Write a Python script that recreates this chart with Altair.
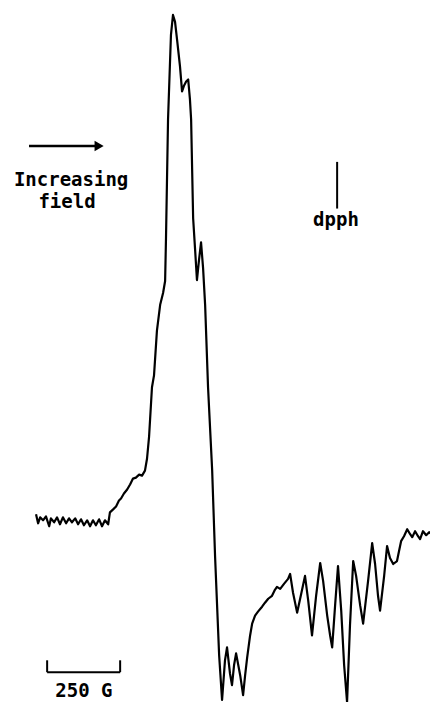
import altair as alt
import pandas as pd

# EPR spectrum trace: magnetic field (G, relative) and derivative signal (arb. units)
field = [0, 7, 14, 24, 34, 45, 51, 62, 72, 82, 92, 103, 113, 123, 134, 144, 154, 164, 175, 185,
         195, 205, 216, 226, 236, 247, 253, 264, 274, 284, 291, 301, 312, 322, 332, 342, 353, 363,
         373, 380, 387, 397, 404, 414, 425, 435, 442, 445, 452, 462, 469, 476, 483, 493, 500, 507,
         514, 521, 527, 531, 538, 545, 551, 558, 565, 572, 579, 589, 603, 613, 627, 637, 647, 654,
         664, 671, 678, 685, 699, 709, 716, 723, 733, 740, 750, 760, 774, 784, 795, 808, 818, 825,
         836, 849, 863, 870, 880, 894, 908, 921, 932, 945, 959, 973, 983, 997, 1007, 1014, 1024,
         1034, 1045, 1055, 1065, 1075, 1086, 1096, 1110, 1120, 1137, 1151, 1161, 1171, 1178, 1192,
         1202, 1212, 1223, 1236, 1243, 1250, 1260, 1271, 1281, 1288, 1298, 1308, 1315, 1325, 1336,
         1346, 1356, 1366, 1377]
signal = [12, 3, 9, 6, 10, 0, 8, 4, 9, 2, 9, 3, 8, 4, 8, 2, 7, 1, 6, 0,
          6, 1, 7, 0, 6, 2, 14, 17, 20, 26, 28, 33, 37, 42, 48, 49, 52, 51,
          56, 68, 90, 140, 152, 197, 223, 235, 247, 290, 410, 495, 515, 508, 490, 463, 438, 444,
          448, 450, 430, 410, 310, 277, 248, 268, 286, 260, 223, 140, 57, -30, -130, -175, -135, -122,
          -148, -160, -140, -128, -150, -170, -150, -132, -110, -98, -90, -86, -81, -77, -73, -70, -64, -61,
          -63, -58, -53, -48, -67, -87, -68, -50, -75, -110, -70, -37, -55, -90, -110, -122, -80,
          -40, -85, -140, -177, -100, -35, -50, -80, -98, -55, -17, -38, -70, -85, -50,
          -20, -32, -38, -35, -25, -15, -10, -3, -8, -11, -5, -10, -13, -5, -9,
          -6, -8, -11, -10]

labels = ["Increasing", "field", "dpph", "250 G"]
label_field = [120, 106, 1027, 164]
label_signal = [343, 321, 302, -172]

arrow_field = [-24, 209]
arrow_signal = [383, 383]
arrow_head_field = [216]

dpph_field = [1031]
dpph_signal = [367, 320]

bar_field = [38, 288]
bar_signal = [-147, -135]

X_DOMAIN = [-96, 1349]
Y_DOMAIN = [-177, 522]

df = pd.DataFrame({"field": field, "signal": signal})
xs = alt.Scale(domain=X_DOMAIN, nice=False, zero=False)
ys = alt.Scale(domain=Y_DOMAIN, nice=False, zero=False)

line = alt.Chart(df).mark_line(color="black", strokeWidth=2.2, strokeJoin="round").encode(
    x=alt.X("field:Q", scale=xs, axis=None),
    y=alt.Y("signal:Q", scale=ys, axis=None),
    order="field:Q",
)

text_df = pd.DataFrame({"label": labels, "field": label_field, "signal": label_signal})
texts = alt.Chart(text_df).mark_text(
    font="DejaVu Sans Mono", fontSize=19, fontWeight="bold", color="black",
    align="center", baseline="alphabetic"
).encode(
    x=alt.X("field:Q", scale=xs, axis=None),
    y=alt.Y("signal:Q", scale=ys, axis=None),
    text="label:N",
)

arrow_df = pd.DataFrame({"x1": [arrow_field[0]], "x2": [arrow_field[1]], "y": [arrow_signal[0]]})
arrow_line = alt.Chart(arrow_df).mark_rule(color="black", strokeWidth=2.5).encode(
    x=alt.X("x1:Q", scale=xs, axis=None),
    x2="x2:Q",
    y=alt.Y("y:Q", scale=ys, axis=None),
)
head_df = pd.DataFrame({"x": arrow_head_field, "y": [arrow_signal[0]]})
arrow_head = alt.Chart(head_df).mark_point(
    shape="triangle-right", filled=True, size=110, color="black", opacity=1
).encode(
    x=alt.X("x:Q", scale=xs, axis=None),
    y=alt.Y("y:Q", scale=ys, axis=None),
)

dpph_df = pd.DataFrame({"x": dpph_field, "y1": [dpph_signal[0]], "y2": [dpph_signal[1]]})
dpph_line = alt.Chart(dpph_df).mark_rule(color="black", strokeWidth=2).encode(
    x=alt.X("x:Q", scale=xs, axis=None),
    y=alt.Y("y1:Q", scale=ys, axis=None),
    y2="y2:Q",
)

bar_h = pd.DataFrame({"x1": [bar_field[0]], "x2": [bar_field[1]], "y": [bar_signal[0]]})
bar_line = alt.Chart(bar_h).mark_rule(color="black", strokeWidth=2).encode(
    x=alt.X("x1:Q", scale=xs, axis=None),
    x2="x2:Q",
    y=alt.Y("y:Q", scale=ys, axis=None),
)
bar_t = pd.DataFrame({"x": bar_field, "y1": [bar_signal[0]] * 2, "y2": [bar_signal[1]] * 2})
bar_ticks = alt.Chart(bar_t).mark_rule(color="black", strokeWidth=2).encode(
    x=alt.X("x:Q", scale=xs, axis=None),
    y=alt.Y("y1:Q", scale=ys, axis=None),
    y2="y2:Q",
)

chart = alt.layer(line, texts, arrow_line, arrow_head, dpph_line, bar_line, bar_ticks).properties(
    width=422, height=694, padding=0, autosize=alt.AutoSizeParams(type="none"),
    background="white",
).configure_view(stroke=None)

chart.save("out.html", embed_options={"renderer": "svg", "actions": False})
